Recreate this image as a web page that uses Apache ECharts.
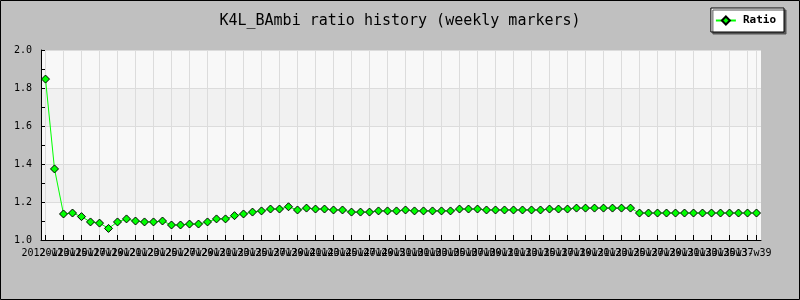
<!DOCTYPE html>
<html>
<head>
<meta charset="utf-8">
<script src="https://cdn.jsdelivr.net/npm/echarts@6/dist/echarts.min.js"></script>
<style>
  html, body { margin: 0; padding: 0; background: #c0c0c0; }
  #chart { width: 800px; height: 300px; }
</style>
</head>
<body>
<div id="chart"></div>
<script>
const titleText = 'K4L_BAmbi ratio history (weekly markers)';
const seriesName = 'Ratio';

const weeks = [
  '2012-w13','2012-w14','2012-w15','2012-w16','2012-w17','2012-w18','2012-w19','2012-w20',
  '2012-w21','2012-w22','2012-w23','2012-w24','2012-w25','2012-w26','2012-w27','2012-w28',
  '2012-w29','2012-w30','2012-w31','2012-w32','2012-w33','2012-w34','2012-w35','2012-w36',
  '2012-w37','2012-w38','2012-w39','2012-w40','2012-w41','2012-w42','2012-w43','2012-w44',
  '2012-w45','2012-w46','2012-w47','2012-w48','2012-w49','2012-w50','2012-w51','2012-w52',
  '2013-w01','2013-w02','2013-w03','2013-w04','2013-w05','2013-w06','2013-w07','2013-w08',
  '2013-w09','2013-w10','2013-w11','2013-w12','2013-w13','2013-w14','2013-w15','2013-w16',
  '2013-w17','2013-w18','2013-w19','2013-w20','2013-w21','2013-w22','2013-w23','2013-w24',
  '2013-w25','2013-w26','2013-w27','2013-w28','2013-w29','2013-w30','2013-w31','2013-w32',
  '2013-w33','2013-w34','2013-w35','2013-w36','2013-w37','2013-w38','2013-w39','2013-w40'
];

const ratio = [
  1.847, 1.374, 1.137, 1.142, 1.123, 1.095, 1.089, 1.061, 1.095, 1.111,
  1.100, 1.095, 1.095, 1.100, 1.079, 1.079, 1.084, 1.084, 1.095, 1.111,
  1.111, 1.128, 1.137, 1.147, 1.153, 1.163, 1.163, 1.175, 1.158, 1.168,
  1.163, 1.163, 1.158, 1.158, 1.147, 1.147, 1.147, 1.153, 1.153, 1.153,
  1.158, 1.153, 1.153, 1.153, 1.153, 1.153, 1.163, 1.163, 1.163, 1.158,
  1.158, 1.158, 1.158, 1.158, 1.158, 1.158, 1.163, 1.163, 1.163, 1.168,
  1.168, 1.168, 1.168, 1.168, 1.168, 1.168, 1.142, 1.142, 1.142, 1.142,
  1.142, 1.142, 1.142, 1.142, 1.142, 1.142, 1.142, 1.142, 1.142, 1.142
];

const yMin = 1.0, yMax = 2.0, yStep = 0.2;

const mono = 'DejaVu Sans Mono';
const chart = echarts.init(document.getElementById('chart'), null, {renderer: 'canvas'});
chart.setOption({
  backgroundColor: '#c0c0c0',
  animation: false,
  title: {
    text: titleText,
    left: 'center',
    top: 9,
    textStyle: {fontFamily: mono, fontSize: 15, fontWeight: 'normal', color: '#000'}
  },
  legend: {
    data: [seriesName],
    right: 16,
    top: 8,
    padding: [7, 8, 6, 4],
    itemWidth: 20,
    itemHeight: 10,
    itemGap: 4,
    backgroundColor: '#ffffff',
    borderColor: '#000000',
    borderWidth: 1,
    borderRadius: 0,
    shadowColor: '#555555',
    shadowOffsetX: 2,
    shadowOffsetY: 2,
    shadowBlur: 0,
    textStyle: {fontFamily: mono, fontSize: 11, fontWeight: 'bold', color: '#000', padding: [0,0,0,2]}
  },
  grid: {left: 41, right: 39, top: 50, bottom: 60, containLabel: false},
  xAxis: {
    type: 'category',
    z: 1,
    data: weeks,
    boundaryGap: true,
    axisLine: {show: true, lineStyle: {color: '#000', width: 1}},
    axisTick: {show: true, inside: true, length: 5, interval: 1, alignWithLabel: true, lineStyle: {color: '#000'}},
    axisLabel: {interval: 0, margin: 8, showMinLabel: true, showMaxLabel: true, hideOverlap: false,
                formatter: (v, i) => (i % 2 === 0 ? v : ''),
                fontFamily: mono, fontSize: 10, color: '#000'},
    splitLine: {show: true, interval: 1, alignWithLabel: true, lineStyle: {color: '#dcdcdc', width: 1}}
  },
  yAxis: {
    type: 'value',
    min: yMin,
    max: yMax,
    interval: yStep,
    axisLine: {show: true, lineStyle: {color: '#000', width: 1}},
    axisTick: {show: true, inside: true, length: 4, lineStyle: {color: '#000'}},
    minorTick: {show: true, splitNumber: 2, length: 4, lineStyle: {color: '#000'}},
    axisLabel: {margin: 9, fontFamily: mono, fontSize: 10, color: '#000', formatter: v => v.toFixed(1)},
    splitLine: {show: true, lineStyle: {color: '#dcdcdc', width: 1}},
    splitArea: {show: true, areaStyle: {color: ['#f8f8f8', '#f1f1f1']}}
  },
  graphic: [{
    type: 'rect', z: 100, silent: true,
    shape: {x: 0.5, y: 0.5, width: 799, height: 299},
    style: {fill: 'none', stroke: '#000', lineWidth: 1}
  }],
  series: [{
    name: seriesName,
    type: 'line',
    z: 3,
    data: ratio,
    symbol: 'diamond',
    symbolSize: 8,
    showAllSymbol: true,
    lineStyle: {color: '#00ff00', width: 1},
    itemStyle: {color: '#00ff00', borderColor: '#000', borderWidth: 1},
    emphasis: {disabled: true}
  }]
});
</script>
</body>
</html>
